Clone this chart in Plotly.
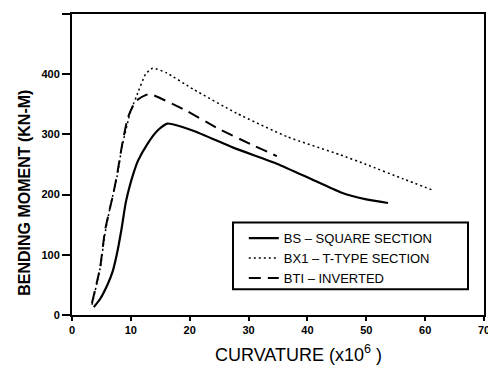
import plotly.graph_objects as go

# BS - square section (solid)
bs_x = [3.7, 4.8, 6.1, 6.9, 7.6, 8.4, 9.1, 9.7, 10.4, 11.2, 12.8, 14.5, 16.2, 20.6, 27.4, 34.9, 40.8, 45.6, 50.0, 53.7]
bs_y = [13, 27, 52, 72, 100, 142, 185, 210, 234, 256, 284, 306, 318, 306, 278, 251, 225, 204, 192, 186]

# BX1 - T-type section (dotted)
bx_x = [3.4, 4.8, 5.6, 6.5, 7.7, 8.5, 9.9, 11.3, 12.5, 13.7, 16.1, 20.6, 28.0, 36.6, 45.6, 50.0, 56.3, 61.4]
bx_y = [17, 79, 135, 180, 232, 280, 336, 372, 400, 410, 402, 375, 335, 296, 266, 250, 226, 207]

# BTI - inverted (dashed)
bt_x = [3.4, 4.8, 5.6, 7.0, 7.6, 8.5, 9.5, 10.8, 12.7, 13.3, 18.9, 24.6, 30.3, 34.8]
bt_y = [20, 80, 140, 201, 230, 282, 328, 355, 366, 367, 342, 311, 284, 264]

names = ["BS \u2013 SQUARE SECTION", "BX1 \u2013 T-TYPE SECTION", "BTI \u2013 INVERTED"]

x_ticks = [0, 10, 20, 30, 40, 50, 60, 70]
y_ticks = [0, 100, 200, 300, 400, 500]

fig = go.Figure()
fig.add_trace(go.Scatter(x=bs_x, y=bs_y, mode="lines", name=names[0],
                         line=dict(color="black", width=2.2, shape="spline", smoothing=0.5)))
fig.add_trace(go.Scatter(x=bx_x, y=bx_y, mode="lines", name=names[1],
                         line=dict(color="black", width=1.5, dash="2px,3px", shape="spline", smoothing=0.5)))
fig.add_trace(go.Scatter(x=bt_x, y=bt_y, mode="lines", name=names[2],
                         line=dict(color="black", width=2, dash="12px,7px", shape="spline", smoothing=0.5)))

font_fam = "Liberation Sans, Arial, sans-serif"

# page body has an 8px default margin, so the figure is 8px smaller than the window
fig.update_layout(
    width=488, height=357,
    margin=dict(l=64, r=12, t=4, b=50),
    paper_bgcolor="white", plot_bgcolor="white",
    font=dict(family=font_fam, color="black"),
    showlegend=True,
    legend=dict(x=0.417, y=0.305, xanchor="left", yanchor="top",
                bgcolor="rgba(0,0,0,0)", borderwidth=0,
                font=dict(size=13, family=font_fam, color="black"),
                tracegroupgap=0, itemwidth=30),
    xaxis=dict(range=[0, 70], tickvals=x_ticks, showgrid=False, zeroline=False,
               showline=True, linecolor="black", linewidth=2, mirror=True,
               ticks="outside", ticklen=4, tickwidth=2, tickcolor="black",
               tickfont=dict(size=11, family=font_fam, weight="bold")),
    yaxis=dict(range=[0, 500], tickvals=y_ticks, showgrid=False, zeroline=False,
               showline=True, linecolor="black", linewidth=2, mirror=True,
               ticks="outside", ticklen=8, tickwidth=2, tickcolor="black",
               tickfont=dict(size=11, family=font_fam, weight="bold")),
    shapes=[dict(type="rect", xref="paper", yref="paper",
                 x0=(233 - 72) / 412, x1=(468 - 72) / 412,
                 y0=(315 - 289) / 303, y1=(315 - 222) / 303,
                 line=dict(color="black", width=2), fillcolor="rgba(0,0,0,0)")],
    annotations=[
        dict(text="CURVATURE (x10<sup>6</sup> )", xref="paper", yref="paper",
             x=(298 - 72) / 412, y=-(354 - 315) / 303, xanchor="center", yanchor="middle",
             showarrow=False, font=dict(size=18, family=font_fam, color="black")),
        dict(text="<b>BENDING MOMENT (KN-M)</b>", xref="paper", yref="paper",
             x=-(72 - 25) / 412, y=(315 - 192) / 303, xanchor="center", yanchor="middle",
             textangle=-90, showarrow=False, font=dict(size=16, family=font_fam, color="black")),
    ],
)

fig.write_html("out.html")
